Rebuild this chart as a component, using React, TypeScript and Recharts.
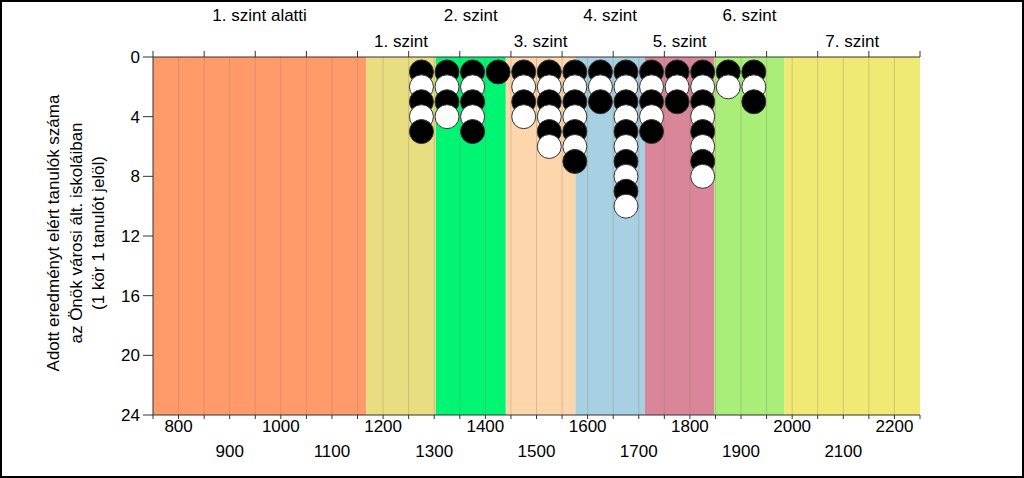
import React from 'react'
import { ComposedChart, Scatter, XAxis, YAxis, ReferenceArea, ReferenceLine } from 'recharts'

// képességszintek határai (pont)
const levelBounds = [750, 1167, 1303, 1440, 1576, 1712, 1848, 1985, 2250]
const levelNames = ['1. szint alatti', '1. szint', '2. szint', '3. szint', '4. szint', '5. szint', '6. szint', '7. szint']
const levelColors = ['#ff9a6a', '#e9dd82', '#00f672', '#fdd6ac', '#a7d0e2', '#d9869a', '#a9ee79', '#f0e974']

// tanulók száma pontszám-sávonként
const scoreBins = [1275, 1325, 1375, 1425, 1475, 1525, 1575, 1625, 1675, 1725, 1775, 1825, 1875, 1925]
const studentCounts = [5, 4, 5, 1, 4, 6, 7, 3, 10, 5, 3, 8, 2, 3]

const xTicks = [
  750, 800, 850, 900, 950, 1000, 1050, 1100, 1150, 1200, 1250, 1300, 1350, 1400, 1450, 1500,
  1550, 1600, 1650, 1700, 1750, 1800, 1850, 1900, 1950, 2000, 2050, 2100, 2150, 2200, 2250,
]
const upperLabels = [800, 1000, 1200, 1400, 1600, 1800, 2000, 2200]
const lowerLabels = [900, 1100, 1300, 1500, 1700, 1900, 2100]
const yTicks = [0, 4, 8, 12, 16, 20, 24]
const yTitle = ['Adott eredményt elért tanulók száma', 'az Önök városi ált. iskoláiban', '(1 kör 1 tanulót jelöl)']

const font = '"Liberation Sans", Arial, sans-serif'

const dots = scoreBins.flatMap((x, i) =>
  Array.from({ length: studentCounts[i] }, (_, k) => ({ x, y: k + 1 }))
)

const BottomTick = (props: any) => {
  const v = Number(props.payload.value)
  const x = Number(props.x)
  let y = 0
  if (upperLabels.includes(v)) y = 432
  else if (lowerLabels.includes(v)) y = 457
  else return <g />
  return (
    <text x={x} y={y} textAnchor="middle" fontSize={17} fontFamily={font} fill="#000">
      {v}
    </text>
  )
}

const Dot = (props: any) => {
  const { cx, cy, payload } = props
  return <circle cx={cx} cy={cy} r={12} fill={payload.y % 2 ? '#000' : '#fff'} stroke="#333" strokeWidth={1} />
}

const YTitle = () => {
  const cy = 233
  const xs = [53, 76, 98]
  return (
    <g>
      {yTitle.map((t, i) => (
        <text key={i} x={xs[i]} y={cy} transform={`rotate(-90, ${xs[i]}, ${cy})`} textAnchor="middle"
          dominantBaseline="central" fontSize={17} fontFamily={font} fill="#000">
          {t}
        </text>
      ))}
    </g>
  )
}

export default function App() {
  return (
    <div style={{ position: 'absolute', left: 0, top: 0, width: 1024, height: 478, background: '#fff' }}>
      <ComposedChart width={1024} height={478} data={dots} margin={{ top: 0, right: 104, bottom: 0, left: 0 }}>
        <XAxis xAxisId="top" orientation="top" type="number" dataKey="x" domain={[750, 2250]} ticks={xTicks}
          height={57} stroke="#333" tickSize={6} tick={() => <g />} allowDataOverflow />
        <XAxis xAxisId="bottom" orientation="bottom" type="number" dataKey="x" domain={[750, 2250]} ticks={xTicks}
          height={63} stroke="#333" tickSize={4} tickMargin={2} tick={(p: any) => <BottomTick {...p} />}
          interval={0} allowDataOverflow />
        <YAxis type="number" dataKey="y" reversed domain={[0, 24]} ticks={yTicks} width={153} stroke="#333"
          tickSize={10} tickMargin={3} tick={{ fontSize: 17, fontFamily: font, fill: '#000' }}
          label={<YTitle />} />
        {levelNames.map((name, i) => (
          <ReferenceArea key={name} xAxisId="bottom" x1={levelBounds[i]} x2={levelBounds[i + 1]} y1={0} y2={24}
            fill={levelColors[i]} fillOpacity={1} stroke="none"
            label={(p: any) => {
              const vb = p.viewBox
              return (
                <text x={vb.x + vb.width / 2} y={vb.y - (i % 2 ? 10 : 36)} textAnchor="middle" fontSize={17}
                  fontFamily={font} fill="#000">
                  {name}
                </text>
              )
            }} />
        ))}
        {xTicks.slice(1, -1).map((v) => (
          <ReferenceLine key={v} xAxisId="bottom" x={v} stroke="#8a7a60" strokeOpacity={0.3} />
        ))}
        <Scatter xAxisId="bottom" data={dots} dataKey="y" shape={<Dot />} isAnimationActive={false} />
      </ComposedChart>
      <div style={{ position: 'absolute', inset: 0, border: '2px solid #000', boxSizing: 'border-box', pointerEvents: 'none' }} />
    </div>
  )
}
